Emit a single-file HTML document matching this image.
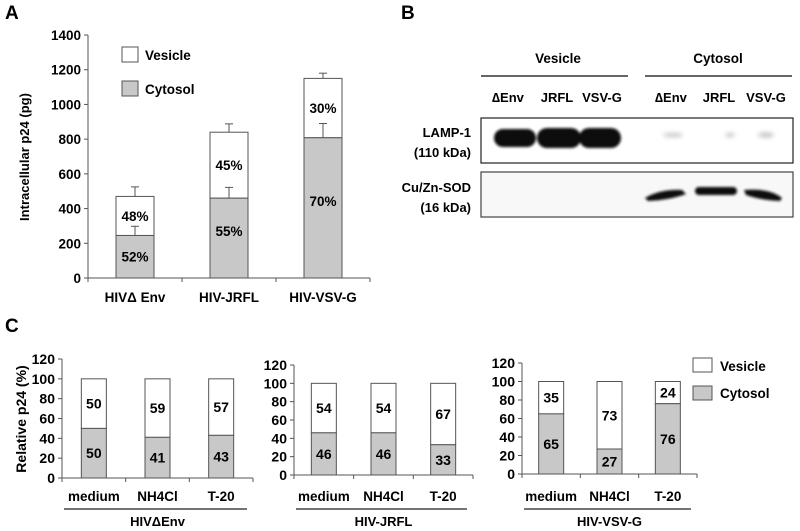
<!DOCTYPE html>
<html><head><meta charset="utf-8"><style>
html,body{margin:0;padding:0;background:#fff}
svg{display:block;font-family:"Liberation Sans",Arial,sans-serif;font-weight:bold}
</style></head><body>
<svg id="fig" width="800" height="531" viewBox="0 0 800 531">
<defs><filter id="blur" x="-20%" y="-50%" width="140%" height="200%"><feGaussianBlur stdDeviation="1.4"/></filter>
<filter id="blur2" x="-20%" y="-100%" width="140%" height="300%"><feGaussianBlur stdDeviation="2.5"/></filter></defs>
<text x="5" y="19" font-size="19">A</text>
<text x="401" y="19" font-size="19">B</text>
<text x="5" y="332" font-size="19">C</text>
<g id="pa"></g>
<g id="pb">
<text x="558" y="63" font-size="13.5" text-anchor="middle">Vesicle</text>
<text x="718" y="63" font-size="13.5" text-anchor="middle">Cytosol</text>
<line x1="481" y1="76" x2="628" y2="76" stroke="#333" stroke-width="1.5"/>
<line x1="645" y1="76" x2="792" y2="76" stroke="#333" stroke-width="1.5"/>
<g font-size="13" text-anchor="middle">
<text x="508" y="102">∆Env</text>
<text x="557" y="102">JRFL</text>
<text x="602" y="102">VSV-G</text>
<text x="671" y="102">∆Env</text>
<text x="719" y="102">JRFL</text>
<text x="766" y="102">VSV-G</text>
</g>
<g font-size="13" text-anchor="end">
<text x="471" y="137">LAMP-1</text>
<text x="471" y="157">(110 kDa)</text>
<text x="471" y="192">Cu/Zn-SOD</text>
<text x="471" y="212">(16 kDa)</text>
</g>
<rect x="481" y="118" width="312" height="45" fill="#fff" stroke="#222" stroke-width="1.2"/>
<g fill="#111" filter="url(#blur)">
<rect x="494" y="129" width="42" height="18" rx="9"/>
<rect x="537" y="128" width="44" height="20" rx="10"/>
<rect x="579" y="128" width="42" height="20" rx="10"/>
</g>
<g fill="#999" filter="url(#blur2)" opacity="0.6">
<ellipse cx="673" cy="135" rx="10" ry="2"/>
<ellipse cx="730" cy="135" rx="5" ry="2"/>
<ellipse cx="766" cy="135" rx="8" ry="2.5"/>
</g>
<rect x="481" y="172" width="312" height="45" fill="#f8f8f8" stroke="#444" stroke-width="1.2"/>
<g fill="#111" filter="url(#blur)">
<path d="M645 198 Q660 189 682 190 L686 194 Q670 200 648 201 Z"/>
<rect x="695" y="187" width="42" height="8" rx="4"/>
<path d="M744 190 Q770 188 782 198 L780 201 Q760 200 746 195 Z"/>
</g>
</g>
<g id="pc"></g>
</svg>
<script>
const NS="http://www.w3.org/2000/svg";
function mk(p,t,a,txt){const e=document.createElementNS(NS,t);for(const k in a)e.setAttribute(k,a[k]);if(txt!==undefined)e.textContent=txt;p.appendChild(e);return e;}

// Panel A data
const aCategories=["HIV\u0394 Env","HIV-JRFL","HIV-VSV-G"];
const aTotal=[470,840,1150];
const aCytosol=[245,460,808];
const aTotalErr=[55,48,30];
const aCytosolErr=[53,62,82];
const aCytPct=["52%","55%","70%"];
const aVesPct=["48%","45%","30%"];
const aTicks=[0,200,400,600,800,1000,1200,1400];

(function(){
const g=document.getElementById('pa');
const X0=88,X1=370,Y0=278,Y1=35,MAX=1400;
const y=v=>Y0-(v/MAX)*(Y0-Y1);
const band=(X1-X0)/aCategories.length, bw=38;
const xc=i=>X0+band*(i+0.5);
let e=mk(g,'line',{x1:X0,y1:Y0,x2:X0,y2:Y1,stroke:'#555','stroke-width':1});

e=mk(g,'line',{x1:X0,y1:Y0,x2:X1,y2:Y0,stroke:'#555','stroke-width':1});

aTicks.forEach(t=>{
 mk(g,'line',{x1:X0-4,y1:y(t),x2:X0,y2:y(t),stroke:'#555'});
 e=mk(g,'text',{x:X0-7,y:y(t)+5,'font-size':13.5,'text-anchor':'end'},t);
 
});
for(let i=0;i<=aCategories.length;i++) mk(g,'line',{x1:X0+band*i,y1:Y0,x2:X0+band*i,y2:Y0+4,stroke:'#555'});
aCategories.forEach((c,i)=>{
 const cx=xc(i),l=cx-bw/2;
 e=mk(g,'rect',{x:l,y:y(aTotal[i]),width:bw,height:y(aCytosol[i])-y(aTotal[i]),fill:'#fff',stroke:'#555','stroke-width':1});
 
 e=mk(g,'rect',{x:l,y:y(aCytosol[i]),width:bw,height:Y0-y(aCytosol[i]),fill:'#c8c8c8',stroke:'#555','stroke-width':1});
 
 [[aTotal[i],aTotalErr[i]],[aCytosol[i],aCytosolErr[i]]].forEach(([v,er])=>{
  mk(g,'line',{x1:cx,y1:y(v),x2:cx,y2:y(v+er),stroke:'#555'});
  e=mk(g,'line',{x1:cx-4,y1:y(v+er),x2:cx+4,y2:y(v+er),stroke:'#555'});
  
 });
 e=mk(g,'text',{x:cx,y:(y(aTotal[i])+y(aCytosol[i]))/2+5,'font-size':13.5,'text-anchor':'middle'},aVesPct[i]);
 
 e=mk(g,'text',{x:cx,y:(y(aCytosol[i])+Y0)/2+ (i==0?5:-2),'font-size':13.5,'text-anchor':'middle'},aCytPct[i]);
 
 e=mk(g,'text',{x:cx,y:302,'font-size':13.5,'text-anchor':'middle'},c);
 
});
e=mk(g,'text',{x:0,y:0,'font-size':13,'text-anchor':'middle',transform:'translate(29,157) rotate(-90)'},'Intracellular p24 (pg)');

e=mk(g,'rect',{x:122,y:47,width:16,height:15,fill:'#fff',stroke:'#555'});

e=mk(g,'text',{x:145,y:60,'font-size':13.5},'Vesicle');

e=mk(g,'rect',{x:122,y:81,width:16,height:15,fill:'#c8c8c8',stroke:'#555'});

e=mk(g,'text',{x:145,y:94,'font-size':13.5},'Cytosol');

})();

// Panel C data
const cCategories=["medium","NH4Cl","T-20"];
const cGroups=["HIV\u0394Env","HIV-JRFL","HIV-VSV-G"];
const cCytosol=[[50,41,43],[46,46,33],[65,27,76]];
const cVesicle=[[50,59,57],[54,54,67],[35,73,24]];
const cTicks=[0,20,40,60,80,100,120];

(function(){
const g=document.getElementById('pc');
const frames=[{X0:62,X1:253,Y0:478,Y1:359},{X0:294,X1:473,Y0:475,Y1:365},{X0:522,X1:697,Y0:474,Y1:363}];
frames.forEach((f,gi)=>{
 const y=v=>f.Y0-(v/120)*(f.Y0-f.Y1);
 const band=(f.X1-f.X0)/3,bw=25;
 let e=mk(g,'line',{x1:f.X0,y1:f.Y0,x2:f.X0,y2:f.Y1,stroke:'#555'});
 
 e=mk(g,'line',{x1:f.X0,y1:f.Y0,x2:f.X1,y2:f.Y0,stroke:'#555'});
 
 cTicks.forEach(t=>{
  mk(g,'line',{x1:f.X0-4,y1:y(t),x2:f.X0,y2:y(t),stroke:'#555'});
  e=mk(g,'text',{x:f.X0-7,y:y(t)+5,'font-size':14,'text-anchor':'end'},t);
  
 });
 for(let i=0;i<=3;i++) mk(g,'line',{x1:f.X0+band*i,y1:f.Y0,x2:f.X0+band*i,y2:f.Y0+4,stroke:'#555'});
 cCategories.forEach((c,i)=>{
  const cx=f.X0+band*(i+0.5),l=cx-bw/2;
  const cy=cCytosol[gi][i],vv=cVesicle[gi][i];
  e=mk(g,'rect',{x:l,y:y(cy+vv),width:bw,height:y(cy)-y(cy+vv),fill:'#fff',stroke:'#555'});
  
  e=mk(g,'rect',{x:l,y:y(cy),width:bw,height:f.Y0-y(cy),fill:'#c8c8c8',stroke:'#555'});
  
  e=mk(g,'text',{x:cx,y:(y(cy+vv)+y(cy))/2+5,'font-size':14,'text-anchor':'middle'},vv);
  
  e=mk(g,'text',{x:cx,y:(y(cy)+f.Y0)/2+5,'font-size':14,'text-anchor':'middle'},cy);
  
  e=mk(g,'text',{x:cx,y:501,'font-size':13.5,'text-anchor':'middle'},c);
  
 });
 e=mk(g,'line',{x1:f.X0+2,y1:509,x2:f.X1-6,y2:509,stroke:'#222','stroke-width':1.3});
 
 e=mk(g,'text',{x:(f.X0+f.X1)/2,y:526,'font-size':13,'text-anchor':'middle'},cGroups[gi]);
 
});
let e=mk(g,'text',{x:0,y:0,'font-size':14,'text-anchor':'middle',transform:'translate(26,419) rotate(-90)'},'Relative p24 (%)');

e=mk(g,'rect',{x:693,y:358,width:19,height:14,fill:'#fff',stroke:'#555'});

e=mk(g,'text',{x:720,y:371,'font-size':13.5},'Vesicle');

e=mk(g,'rect',{x:693,y:386,width:19,height:14,fill:'#c8c8c8',stroke:'#555'});

e=mk(g,'text',{x:720,y:398,'font-size':13.5},'Cytosol');

})();
</script>
</body></html>
